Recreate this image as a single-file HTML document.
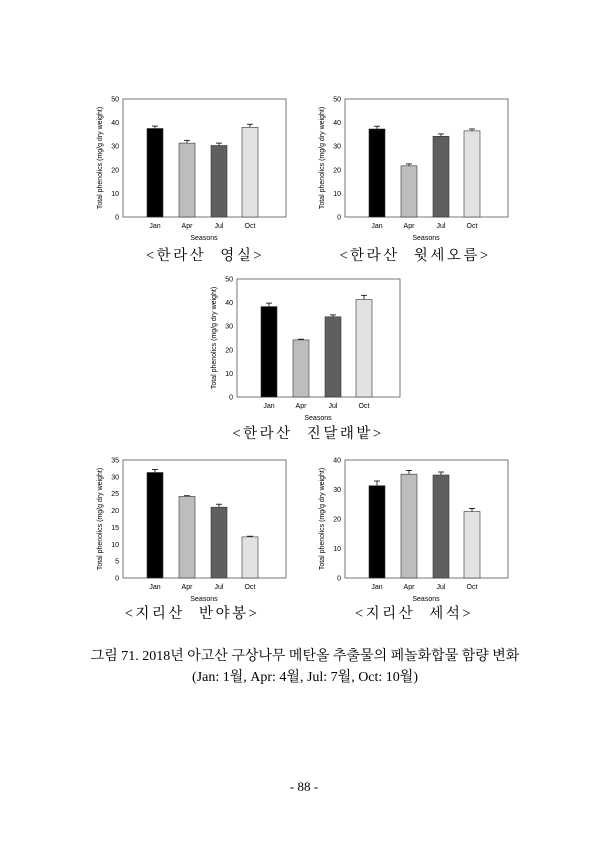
<!DOCTYPE html>
<html><head><meta charset="utf-8"><style>
body{margin:0;background:#fff}
svg text{font-family:"Liberation Sans",sans-serif}
.t{font-size:7px;text-anchor:end}
.m{font-size:7px;text-anchor:middle}
.c{font-family:"Liberation Serif","Noto Serif CJK KR",serif !important;font-size:14px;text-anchor:middle}
.cc{letter-spacing:2.5px;word-spacing:8px;font-size:14.5px}
</style></head><body>
<svg width="609" height="840" xmlns="http://www.w3.org/2000/svg">
<defs>
<g id="frame">
<rect x="0" y="0" width="163" height="118" fill="none" stroke="#555" stroke-width="0.8"/>
<text class="m" x="32" y="129">Jan</text><text class="m" x="64" y="129">Apr</text><text class="m" x="96" y="129">Jul</text><text class="m" x="127" y="129">Oct</text>
<text class="m" x="81" y="141">Seasons</text>
<text class="m" transform="translate(-21,59) rotate(-90)" style="font-size:7px">Total phenolics (mg/g dry weight)</text>
</g>
<g id="y50">
<text class="t" x="-4" y="120.5">0</text><text class="t" x="-4" y="96.9">10</text><text class="t" x="-4" y="73.3">20</text><text class="t" x="-4" y="49.7">30</text><text class="t" x="-4" y="26.1">40</text><text class="t" x="-4" y="2.5">50</text>
</g>
</defs>

<!-- chart 1 -->
<g transform="translate(123,99)">
<use href="#frame"/><use href="#y50"/>
<g stroke="#000" stroke-width="0.8">
<line x1="32" y1="29.5" x2="32" y2="27.1"/><line x1="29" y1="27.1" x2="35" y2="27.1"/>
<line x1="64" y1="44.1" x2="64" y2="41.3"/><line x1="61" y1="41.3" x2="67" y2="41.3"/>
<line x1="96" y1="46.5" x2="96" y2="44.1"/><line x1="93" y1="44.1" x2="99" y2="44.1"/>
<line x1="127" y1="28.3" x2="127" y2="25.2"/><line x1="124" y1="25.2" x2="130" y2="25.2"/>
</g>
<g stroke="#333" stroke-width="0.6">
<rect x="24" y="29.5" width="16" height="88.5" fill="#000"/>
<rect x="56" y="44.1" width="16" height="73.9" fill="#bdbdbd"/>
<rect x="88" y="46.5" width="16" height="71.5" fill="#5f5f5f"/>
<rect x="119" y="28.3" width="16" height="89.7" fill="#e2e2e2"/>
</g>
</g>
<text class="c cc" x="205" y="260">&lt;한라산 영실&gt;</text>

<!-- chart 2 -->
<g transform="translate(345,99)">
<use href="#frame"/><use href="#y50"/>
<g stroke="#000" stroke-width="0.8">
<line x1="32" y1="30" x2="32" y2="27.2"/><line x1="29" y1="27.2" x2="35" y2="27.2"/>
<line x1="64" y1="66.8" x2="64" y2="64.9"/><line x1="61" y1="64.9" x2="67" y2="64.9"/>
<line x1="96" y1="37.3" x2="96" y2="34.9"/><line x1="93" y1="34.9" x2="99" y2="34.9"/>
<line x1="127" y1="31.9" x2="127" y2="30"/><line x1="124" y1="30" x2="130" y2="30"/>
</g>
<g stroke="#333" stroke-width="0.6">
<rect x="24" y="30" width="16" height="88" fill="#000"/>
<rect x="56" y="66.8" width="16" height="51.2" fill="#bdbdbd"/>
<rect x="88" y="37.3" width="16" height="80.7" fill="#5f5f5f"/>
<rect x="119" y="31.9" width="16" height="86.1" fill="#e2e2e2"/>
</g>
</g>
<text class="c cc" x="415" y="260">&lt;한라산 윗세오름&gt;</text>

<!-- chart 3 -->
<g transform="translate(237,279)">
<use href="#frame"/><use href="#y50"/>
<g stroke="#000" stroke-width="0.8">
<line x1="32" y1="27.6" x2="32" y2="24.1"/><line x1="29" y1="24.1" x2="35" y2="24.1"/>
<line x1="64" y1="60.9" x2="64" y2="60.2"/><line x1="61" y1="60.2" x2="67" y2="60.2"/>
<line x1="96" y1="37.8" x2="96" y2="35.9"/><line x1="93" y1="35.9" x2="99" y2="35.9"/>
<line x1="127" y1="20.5" x2="127" y2="16.3"/><line x1="124" y1="16.3" x2="130" y2="16.3"/>
</g>
<g stroke="#333" stroke-width="0.6">
<rect x="24" y="27.6" width="16" height="90.4" fill="#000"/>
<rect x="56" y="60.9" width="16" height="57.1" fill="#bdbdbd"/>
<rect x="88" y="37.8" width="16" height="80.2" fill="#5f5f5f"/>
<rect x="119" y="20.5" width="16" height="97.5" fill="#e2e2e2"/>
</g>
</g>
<text class="c cc" x="308" y="438">&lt;한라산 진달래밭&gt;</text>

<!-- chart 4 -->
<g transform="translate(123,460)">
<use href="#frame"/>
<text class="t" x="-4" y="120.5">0</text><text class="t" x="-4" y="103.6">5</text><text class="t" x="-4" y="86.8">10</text><text class="t" x="-4" y="69.9">15</text><text class="t" x="-4" y="53.1">20</text><text class="t" x="-4" y="36.2">25</text><text class="t" x="-4" y="19.4">30</text><text class="t" x="-4" y="2.5">35</text>
<g stroke="#000" stroke-width="0.8">
<line x1="32" y1="12.5" x2="32" y2="9.5"/><line x1="29" y1="9.5" x2="35" y2="9.5"/>
<line x1="64" y1="36.4" x2="64" y2="35.7"/><line x1="61" y1="35.7" x2="67" y2="35.7"/>
<line x1="96" y1="47.2" x2="96" y2="44.2"/><line x1="93" y1="44.2" x2="99" y2="44.2"/>
<line x1="127" y1="76.9" x2="127" y2="76.2"/><line x1="124" y1="76.2" x2="130" y2="76.2"/>
</g>
<g stroke="#333" stroke-width="0.6">
<rect x="24" y="12.5" width="16" height="105.5" fill="#000"/>
<rect x="56" y="36.4" width="16" height="81.6" fill="#bdbdbd"/>
<rect x="88" y="47.2" width="16" height="70.8" fill="#5f5f5f"/>
<rect x="119" y="76.9" width="16" height="41.1" fill="#e2e2e2"/>
</g>
</g>
<text class="c cc" x="192" y="618">&lt;지리산 반야봉&gt;</text>

<!-- chart 5 -->
<g transform="translate(345,460)">
<use href="#frame"/>
<text class="t" x="-4" y="120.5">0</text><text class="t" x="-4" y="91">10</text><text class="t" x="-4" y="61.5">20</text><text class="t" x="-4" y="32">30</text><text class="t" x="-4" y="2.5">40</text>
<g stroke="#000" stroke-width="0.8">
<line x1="32" y1="25.7" x2="32" y2="21"/><line x1="29" y1="21" x2="35" y2="21"/>
<line x1="64" y1="14.2" x2="64" y2="10.4"/><line x1="61" y1="10.4" x2="67" y2="10.4"/>
<line x1="96" y1="15" x2="96" y2="12"/><line x1="93" y1="12" x2="99" y2="12"/>
<line x1="127" y1="51.6" x2="127" y2="48.4"/><line x1="124" y1="48.4" x2="130" y2="48.4"/>
</g>
<g stroke="#333" stroke-width="0.6">
<rect x="24" y="25.7" width="16" height="92.3" fill="#000"/>
<rect x="56" y="14.2" width="16" height="103.8" fill="#bdbdbd"/>
<rect x="88" y="15" width="16" height="103" fill="#5f5f5f"/>
<rect x="119" y="51.6" width="16" height="66.4" fill="#e2e2e2"/>
</g>
</g>
<text class="c cc" x="414" y="618">&lt;지리산 세석&gt;</text>

<text class="c" x="305" y="660">그림 71. 2018년 아고산 구상나무 메탄올 추출물의 페놀화합물 함량 변화</text>
<text class="c" x="305" y="681">(Jan: 1월, Apr: 4월, Jul: 7월, Oct: 10월)</text>
<text class="c" x="304" y="791" style="font-size:13px">- 88 -</text>
</svg>
</body></html>
